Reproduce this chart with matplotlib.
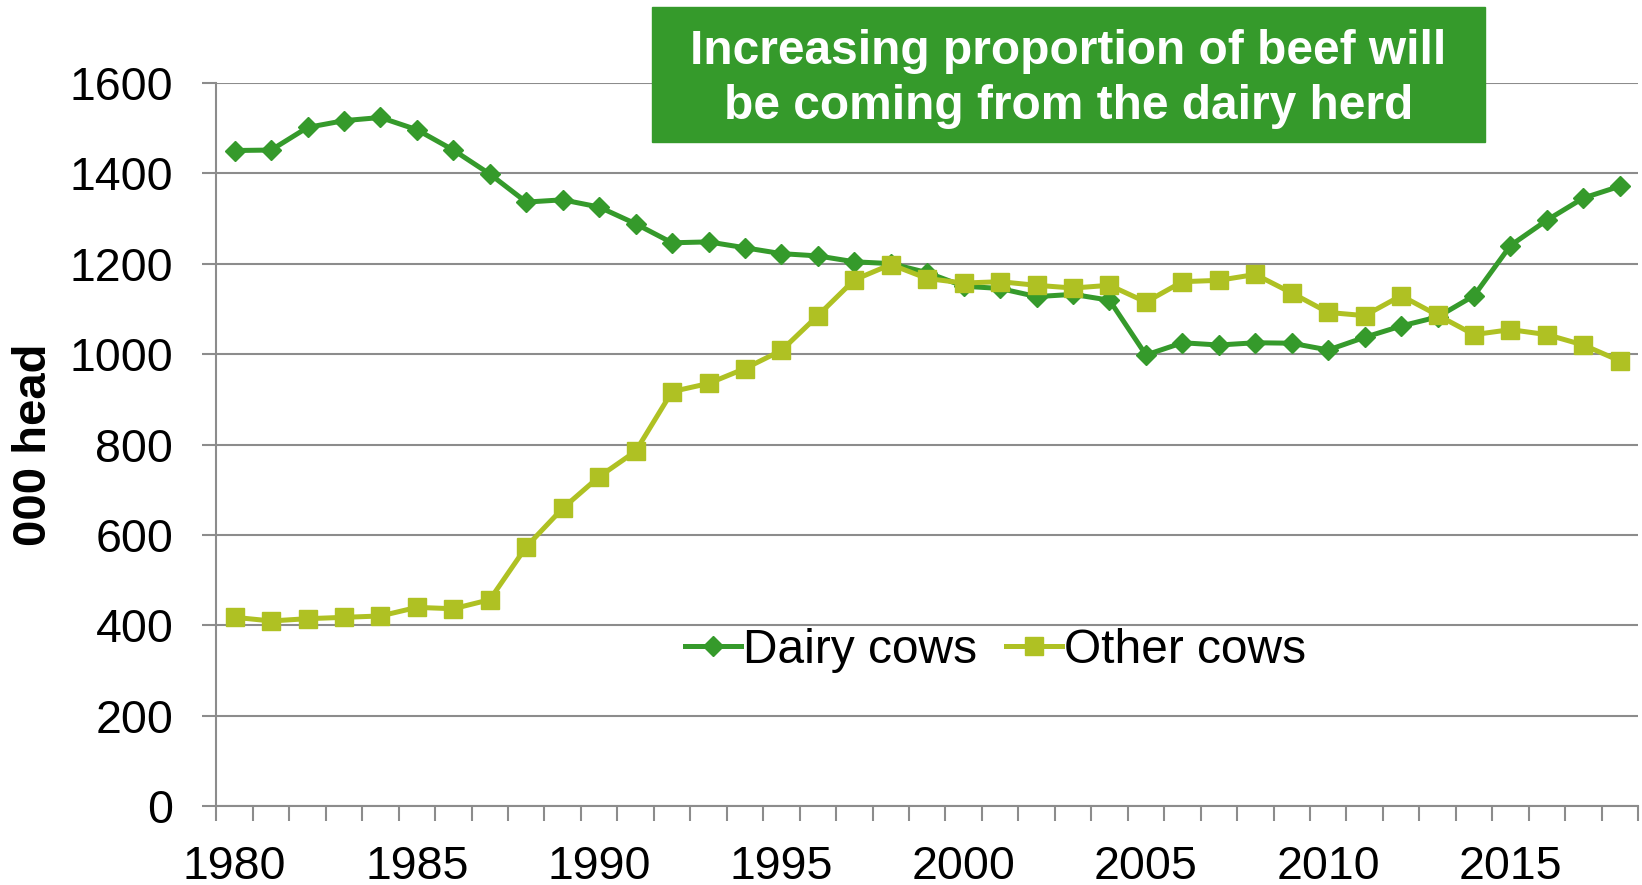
import matplotlib
matplotlib.use("Agg")
import matplotlib.pyplot as plt
from matplotlib.patches import Rectangle
import numpy as np

plt.rcParams['font.family'] = ['Liberation Sans', 'DejaVu Sans']

# cow numbers, thousand head
years = list(range(1980, 2019))
dairy = [1450, 1451, 1501, 1516, 1523, 1496, 1451, 1398, 1336, 1341,
         1325, 1288, 1246, 1248, 1235, 1222, 1217, 1204, 1200, 1180,
         1150, 1145, 1127, 1132, 1119, 998, 1025, 1020, 1025, 1024,
         1009, 1037, 1062, 1082, 1129, 1240, 1296, 1345, 1371]
other = [418, 410, 415, 418, 421, 440, 437, 457, 574, 659,
         729, 785, 917, 935, 968, 1008, 1085, 1164, 1198, 1167,
         1157, 1160, 1152, 1146, 1152, 1115, 1160, 1163, 1176, 1135,
         1092, 1085, 1129, 1086, 1043, 1054, 1043, 1020, 985]
label_years = [1980, 1985, 1990, 1995, 2000, 2005, 2010, 2015]
yticks = [0, 200, 400, 600, 800, 1000, 1200, 1400, 1600]

dark_green = '#359A2B'
lime = '#AFC123'
grey = '#8C8C8C'

fig = plt.figure(figsize=(16.42, 8.85), dpi=100)
ax = fig.add_axes([0.1318, 0.0888, 0.8658, 0.8178])

ax.plot(years, dairy, color=dark_green, lw=3.6, marker='D', ms=10.5,
        mec=dark_green, label='Dairy cows', zorder=3)
ax.plot(years, other, color=lime, lw=3.6, marker='s', ms=13.5,
        mec=lime, label='Other cows', zorder=4)

ax.set_xlim(1979.5, 2018.5)
ax.set_ylim(0, 1600)
ax.set_yticks(yticks)
ax.grid(axis='y', color=grey, lw=1.5)
ax.set_axisbelow(True)

# tick marks between the years, labels every fifth year
ax.set_xticks(np.arange(1979.5, 2019, 1))
ax.set_xticklabels([])
ax.set_xticks(label_years, minor=True)
ax.set_xticklabels([str(y) for y in label_years], minor=True)
ax.tick_params(axis='x', which='major', length=10.5, width=1.5, color=grey)
ax.tick_params(axis='x', which='minor', length=0, pad=28, labelsize=33.5)
ax.tick_params(axis='y', length=10, width=1.5, color=grey, pad=21, labelsize=33.5)

for s in ['top', 'right']:
    ax.spines[s].set_visible(False)
for s in ['left', 'bottom']:
    ax.spines[s].set_color(grey)
    ax.spines[s].set_linewidth(1.5)

fig.text(34.5 / 1642, 0.497, '000 head', rotation=90, ha='center', va='center',
         fontsize=34, fontweight='bold')

ax.legend(loc='center', bbox_to_anchor=(0.548, 0.216), ncol=2, frameon=False,
          fontsize=34.5, handlelength=1.17, handletextpad=0.05, columnspacing=0.6)

# green callout box
fig.add_artist(Rectangle((652 / 1642, 1 - 142 / 885), 833 / 1642, 135 / 885,
                         transform=fig.transFigure, color=dark_green, zorder=5))
fig.text(1068.5 / 1642, 1 - 79 / 885,
         'Increasing proportion of beef will\nbe coming from the dairy herd',
         ha='center', va='center', color='white', fontsize=34.5,
         fontweight='bold', linespacing=1.27, zorder=6)

fig.savefig('out.png', dpi=100)
